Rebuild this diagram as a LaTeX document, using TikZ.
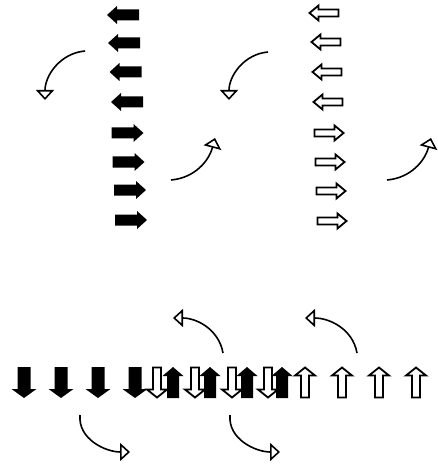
\documentclass[tikz,border=0pt]{standalone}
\usetikzlibrary{arrows.meta}
\tikzset{
  pics/barr/.style n args={4}{code={%
    \path[pic actions] (-#1/2,-#2/2) -- (#1/2-#4,-#2/2) -- (#1/2-#4,-#3/2) -- (#1/2,0)
      -- (#1/2-#4,#3/2) -- (#1/2-#4,#2/2) -- (-#1/2,#2/2) -- cycle;
  }},
  blk/.style={fill=black},
  wht/.style={draw=black, fill=white, line width=1.8pt, line join=miter},
  curv/.style={line width=1.6pt, -{Triangle[length=10pt,width=18pt,fill=white,line width=1.6pt]}},
}
\begin{document}
\begin{tikzpicture}[x=1pt,y=1pt]
\useasboundingbox (0,-465) rectangle (438,0);
% top-left column (black)
\foreach \x/\y/\a in {123/15/180,124/43/180,125.5/72/180,127/102/180,127.5/133/0,128.5/162/0,130/190/0,131/220/0}
  \pic[blk, rotate=\a] at (\x,-\y) {barr={32}{11}{18}{10}};
% top-right column (white)
\foreach \x/\y/\a in {324/13/180,326/42/180,327/72/180,328/102/180,329/133/0,330/162/0,331/191/0,332/221/0}
  \pic[wht, rotate=\a] at (\x,-\y) {barr={29}{7}{15}{9}};
% bottom row
\foreach \x in {24,61,98,135}
  \pic[blk, rotate=-90] at (\x,-382.5) {barr={31}{13}{25}{9}};
\foreach \x in {157,195,232,268}
  \pic[wht, rotate=-90] at (\x,-382.5) {barr={30}{8}{20}{8}};
\foreach \x in {173,210,247,282}
  \pic[blk, rotate=90] at (\x,-382.5) {barr={31}{12}{21}{9}};
\foreach \x in {305,342,379,416}
  \pic[wht, rotate=90] at (\x,-382.5) {barr={30}{8}{20}{8}};
% curved arrows
\coordinate (a1s) at (85,-51);   \coordinate (a1e) at (45,-100);
\coordinate (a2s) at (171,-180); \coordinate (a2e) at (215,-138);
\coordinate (a3s) at (268,-52);  \coordinate (a3e) at (229,-100);
\coordinate (a4s) at (387,-180); \coordinate (a4e) at (431,-138);
\coordinate (b1s) at (223,-353); \coordinate (b1e) at (173,-318);
\coordinate (b2s) at (357,-353); \coordinate (b2e) at (305,-318);
\coordinate (b3s) at (80,-415);  \coordinate (b3e) at (130,-452);
\coordinate (b4s) at (230,-415); \coordinate (b4e) at (280,-452);
\draw[curv] (a1s) to[out=185,in=90] (a1e);
\draw[curv] (a3s) to[out=185,in=90] (a3e);
\draw[curv] (a2s) to[out=5,in=-105] (a2e);
\draw[curv] (a4s) to[out=5,in=-105] (a4e);
\draw[curv] (b1s) to[out=100,in=0] (b1e);
\draw[curv] (b2s) to[out=100,in=0] (b2e);
\draw[curv] (b3s) to[out=-95,in=180] (b3e);
\draw[curv] (b4s) to[out=-95,in=180] (b4e);
\end{tikzpicture}
\end{document}
